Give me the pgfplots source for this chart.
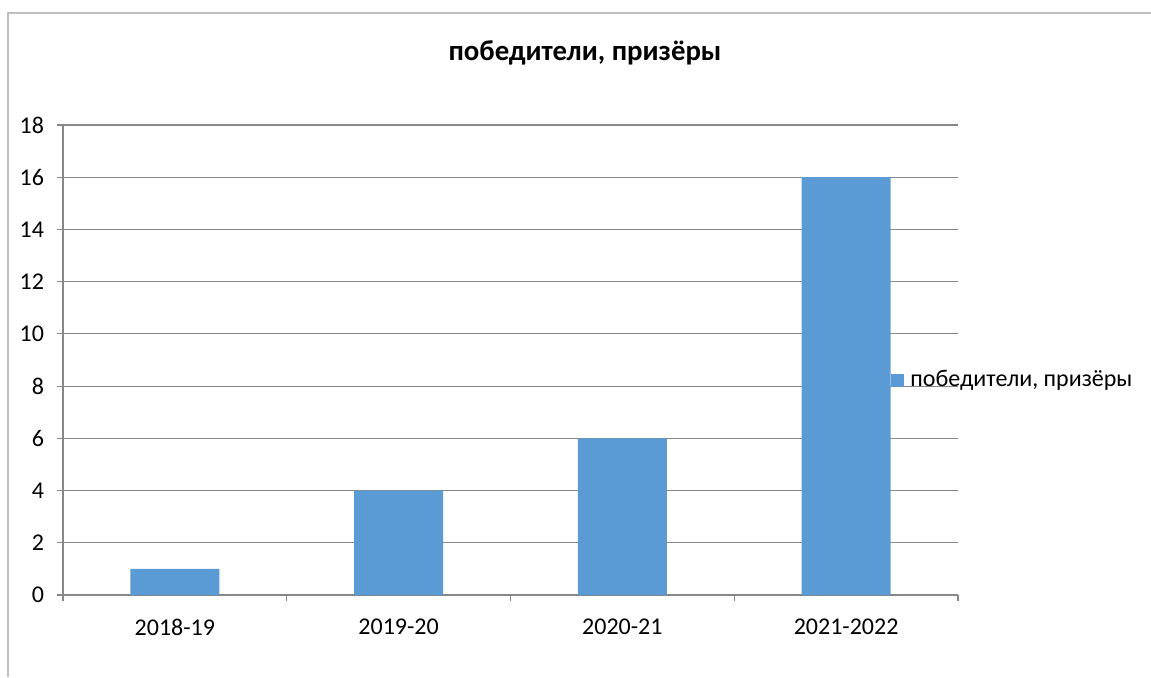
\documentclass[border=0pt]{standalone}
\usepackage{pgfplots}
\pgfplotsset{compat=1.18}
\usepackage{fontspec}
\setmainfont{Carlito}
\definecolor{barblue}{HTML}{5B9BD5}
\definecolor{gridgray}{HTML}{878787}
\definecolor{framegray}{HTML}{BFBFBF}
\begin{document}
\begin{tikzpicture}[x=0.5pt,y=0.5pt]
% picture is 1151 x 677 px, 1 px = 0.5pt
\path[use as bounding box] (0,0) rectangle (1151,677);
\draw[framegray,line width=0.8pt] (8,0) -- (8,664) -- (1151,664);
\node[font=\fontsize{14.4}{16}\selectfont\bfseries] at (585,624) {победители, призёры};
\begin{axis}[
    at={(63pt*0.5,82pt*0.5)}, anchor=south west,
    scale only axis,
    width=447.5pt, height=235pt,
    ybar, bar width=44.5pt,
    xmin=-0.5, xmax=3.5,
    ymin=0, ymax=18,
    ytick={0,2,...,18},
    % category boundaries carry the tick marks
    xtick={-0.5,0.5,1.5,2.5,3.5},
    xticklabels={},
    % category names sit at the centres, without marks
    extra x ticks={0,1,2,3},
    extra x tick labels={2018-19,2019-20,2020-21,2021-2022},
    extra x tick style={major tick length=0pt},
    tick style={gridgray, line width=0.6pt},
    tick align=outside,
    major tick length=3pt,
    axis x line*=bottom, axis y line*=left,
    axis line style={gridgray, line width=0.6pt, -},
    ymajorgrids, grid style={gridgray, line width=0.6pt},
    tick label style={font=\fontsize{12}{14}\selectfont},
    /pgf/number format/assume math mode=true,
    yticklabel style={xshift=-3pt},
    xticklabel style={yshift=-8.5pt},
    legend style={at={(rel axis cs:0.925,0.457)}, anchor=west, draw=none, fill=none,
        font=\fontsize{12}{14}\selectfont, inner sep=0pt, nodes={inner xsep=3pt}},
    legend image code/.code={\fill[barblue] (0pt,-3.3pt) rectangle (6.6pt,3.3pt);},
    legend cell align=left,
]
\addplot[fill=barblue, draw=none] coordinates {(0,1) (1,4) (2,6) (3,16)};
\addlegendentry{победители, призёры}
\end{axis}
\end{tikzpicture}
\end{document}
